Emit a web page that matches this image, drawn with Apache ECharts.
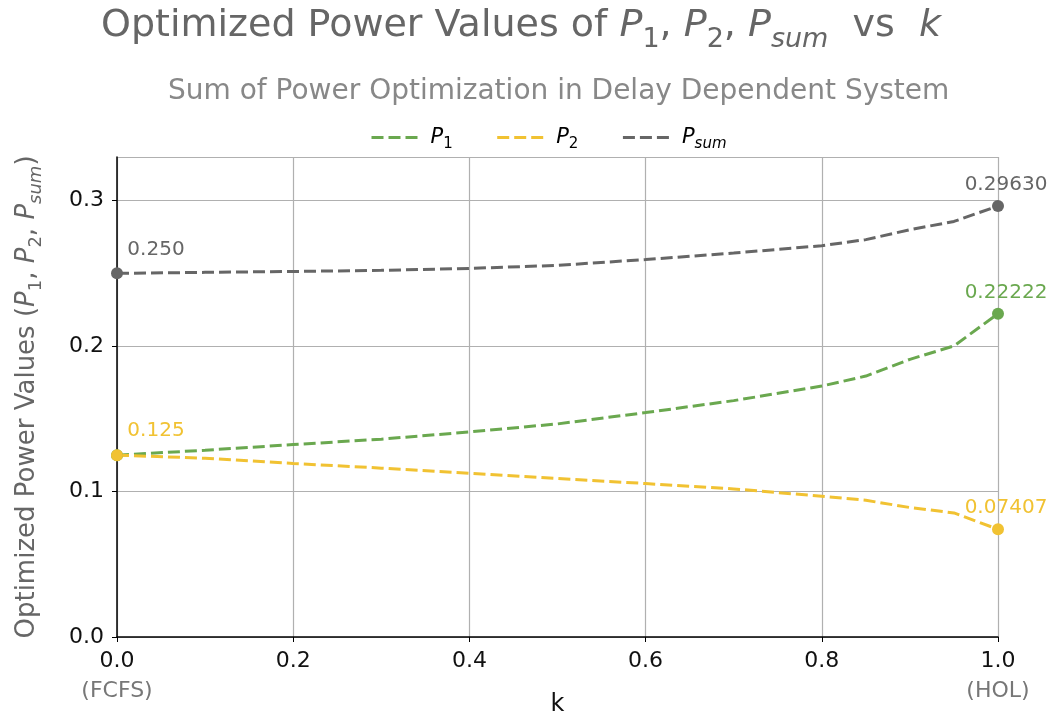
<!DOCTYPE html>
<html>
<head>
<meta charset="utf-8">
<script src="https://cdn.jsdelivr.net/npm/echarts@6/dist/echarts.min.js"></script>
<style>
  html, body { margin: 0; padding: 0; background: #fff; }
  #chart { width: 1053px; height: 715px; }
</style>
</head>
<body>
<div id="chart"></div>
<script>
// k values (0 = FCFS, 1 = HOL)
var kValues = [0, 0.1, 0.2, 0.3, 0.4, 0.5, 0.6, 0.7, 0.8, 0.85, 0.9, 0.95, 1.0];
var p1Values = [0.125, 0.1284, 0.1323, 0.1360, 0.1410, 0.1465, 0.1543, 0.1625, 0.1725, 0.1794, 0.1909, 0.2001, 0.22222];
var p2Values = [0.125, 0.1229, 0.1193, 0.1161, 0.1126, 0.1090, 0.1055, 0.1018, 0.0968, 0.0940, 0.0890, 0.0853, 0.07407];
var psumValues = [0.250, 0.2507, 0.2513, 0.2521, 0.2534, 0.2555, 0.2595, 0.2640, 0.2690, 0.2732, 0.2800, 0.2857, 0.29630];
var yTicks = [0.0, 0.1, 0.2, 0.3];

var green = '#6aa84f', yellow = '#f1c232', gray = '#666666';
var font = 'DejaVu Sans';

// label texts for start / end points (null = no label)
function buildData(vals, startLabel, endLabel, color) {
    var last = vals.length - 1;
    return vals.map(function (v, i) {
        var item = { value: [kValues[i], v] };
        if (i === 0 && startLabel) {
            item.label = { show: true, formatter: startLabel, position: 'top', distance: 8, offset: [39, 0], color: color, fontSize: 20, fontFamily: font };
        }
        if (i === last && endLabel) {
            item.label = { show: true, formatter: endLabel, position: 'top', distance: 5, offset: [8, 0], color: color, fontSize: 20, fontFamily: font };
        }
        return item;
    });
}

function mkSeries(name, vals, color, startLabel, endLabel) {
    var last = vals.length - 1;
    return {
        name: name,
        type: 'line',
        data: buildData(vals, startLabel, endLabel, color),
        symbol: 'circle',
        showAllSymbol: true,
        symbolSize: function (val, params) {
            return (params.dataIndex === 0 || params.dataIndex === last) ? 12 : 0;
        },
        itemStyle: { color: color },
        lineStyle: { color: color, width: 3, type: [12, 5] },
        smooth: false,
        animation: false
    };
}

var chart = echarts.init(document.getElementById('chart'));

var subStyle = function (size, color) {
    var sub = Math.round(size * 0.7);
    return {
        n: { fontSize: size, color: color, fontFamily: font, fontWeight: 'normal', lineHeight: Math.round(size * 1.4) },
        i: { fontSize: size, color: color, fontFamily: font, fontWeight: 'normal', fontStyle: 'italic', lineHeight: Math.round(size * 1.4) },
        s: { fontSize: sub, color: color, fontFamily: font, fontWeight: 'normal', verticalAlign: 'bottom', lineHeight: sub },
        si: { fontSize: sub, color: color, fontFamily: font, fontWeight: 'normal', fontStyle: 'italic', verticalAlign: 'bottom', lineHeight: sub }
    };
};

var option = {
    backgroundColor: '#fff',
    title: [
        {
            text: '{n|Optimized Power Values of }{i|P}{s|1}{n|, }{i|P}{s|2}{n|, }{i|P}{si|sum}{n|  vs  }{i|k}',
            left: 96,
            top: -5,
            textStyle: { fontWeight: 'normal', rich: subStyle(38, '#666666') }
        },
        {
            text: 'Sum of Power Optimization in Delay Dependent System',
            left: 163,
            top: 73,
            textStyle: { fontSize: 28, fontWeight: 'normal', color: '#888888', fontFamily: font }
        }
    ],
    legend: {
        top: 122,
        left: 365,
        itemWidth: 46,
        itemHeight: 14,
        itemGap: 43,
        itemStyle: { opacity: 0 },
        lineStyle: { width: 3 },
        data: ['P1', 'P2', 'Psum'],
        formatter: function (name) {
            if (name === 'P1') return '{i|P}{s|1}';
            if (name === 'P2') return '{i|P}{s|2}';
            return '{i|P}{si|sum}';
        },
        textStyle: { padding: [0, 0, 0, 8], rich: subStyle(21, '#000000') }
    },
    grid: { left: 117, right: 55, top: 157, bottom: 78, containLabel: false, outerBoundsMode: 'none' },
    xAxis: {
        type: 'value',
        min: 0,
        max: 1,
        interval: 0.2,
        name: 'k',
        nameLocation: 'middle',
        nameGap: 56,
        nameMoveOverlap: false,
        nameTextStyle: { fontSize: 24, color: '#111', fontFamily: font },
        axisLine: { show: true, lineStyle: { color: '#000', width: 1.5 } },
        axisTick: { show: true, inside: false, length: 5, lineStyle: { color: '#000' } },
        splitLine: { show: true, lineStyle: { color: '#b0b0b0', width: 1.2 } },
        axisLabel: {
            margin: 9,
            fontSize: 22,
            fontFamily: font,
            color: '#111',
            formatter: function (v) {
                if (v === 0) return '{a|0.0}\n{b|(FCFS)}';
                if (v === 1) return '{a|1.0}\n{b|(HOL)}';
                return '{a|' + v.toFixed(1) + '}';
            },
            rich: {
                a: { fontSize: 22, color: '#111', fontFamily: font, lineHeight: 30 },
                b: { fontSize: 22, color: '#777', fontFamily: font, lineHeight: 30 }
            }
        }
    },
    yAxis: {
        type: 'value',
        min: 0,
        max: 0.33,
        interval: 0.1,
        name: '{n|Optimized Power Values (}{i|P}{s|1}{n|, }{i|P}{s|2}{n|, }{i|P}{si|sum}{n|)}',
        nameLocation: 'middle',
        nameGap: 72,
        nameMoveOverlap: false,
        nameRotate: 90,
        nameTextStyle: { rich: subStyle(26, '#666666') },
        axisLine: { show: true, lineStyle: { color: '#000', width: 1.5 } },
        axisTick: { show: true, inside: false, length: 5, lineStyle: { color: '#000' } },
        splitLine: { show: true, lineStyle: { color: '#b0b0b0', width: 1.2 } },
        axisLabel: {
            margin: 13,
            fontSize: 22,
            fontFamily: font,
            color: '#111',
            showMaxLabel: false,
            formatter: function (v) {
                return yTicks.indexOf(Math.round(v * 10) / 10) >= 0 ? v.toFixed(1) : '';
            }
        }
    },
    series: [
        mkSeries('P1', p1Values, green, null, '0.22222'),
        mkSeries('P2', p2Values, yellow, '0.125', '0.07407'),
        mkSeries('Psum', psumValues, gray, '0.250', '0.29630')
    ]
};

chart.setOption(option);
</script>
</body>
</html>
